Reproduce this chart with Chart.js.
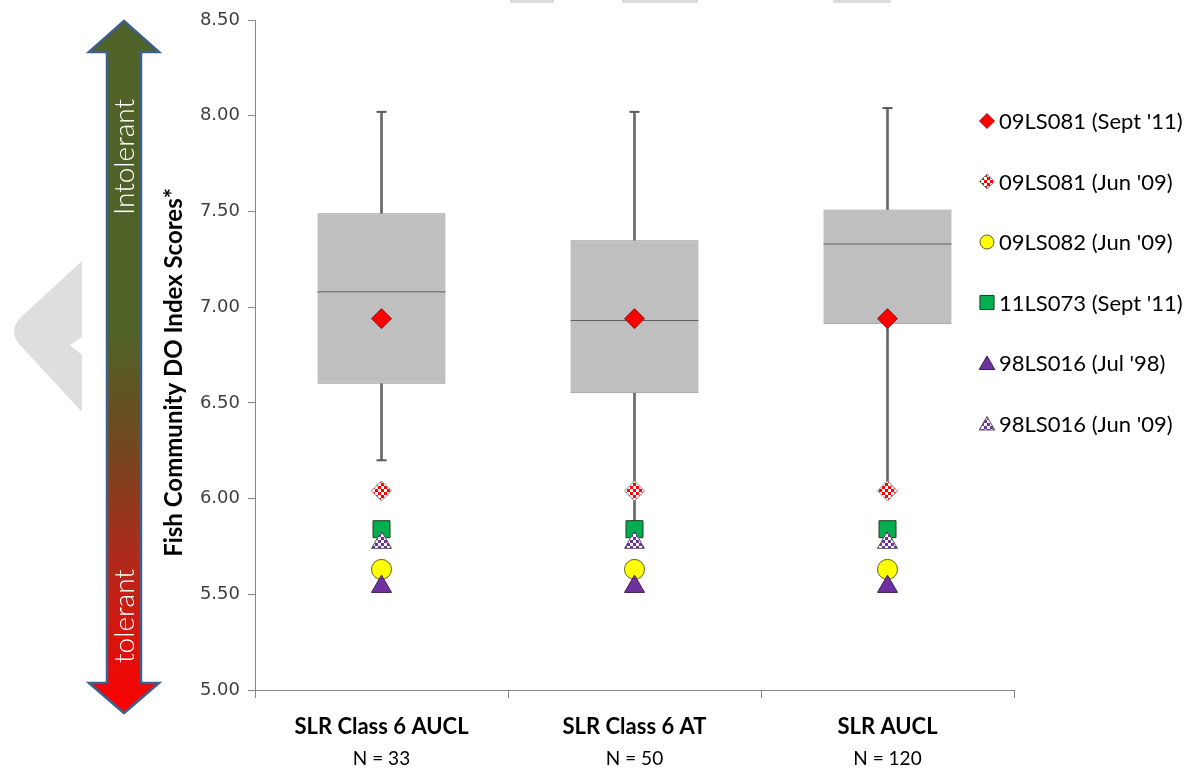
<!DOCTYPE html>
<html><head><meta charset="utf-8">
<script src="https://cdn.jsdelivr.net/npm/chart.js@4/dist/chart.umd.min.js"></script>
<style>html,body{margin:0;padding:0;background:#fff}#wrap{width:1194px;height:770px;position:relative}</style>
</head><body><div id="wrap"><canvas id="c" width="1194" height="770"></canvas></div>
<script>
// ---- data ----
const categories = ['SLR Class 6 AUCL', 'SLR Class 6 AT', 'SLR AUCL'];
const sampleSizes = ['N = 33', 'N = 50', 'N = 120'];
const yTickValues = [5.00, 5.50, 6.00, 6.50, 7.00, 7.50, 8.00, 8.50];
const whiskerHigh = [8.02, 8.02, 8.04];
const quartile3 = [7.49, 7.35, 7.51];
const medians = [7.08, 6.93, 7.33];
const quartile1 = [6.60, 6.55, 6.91];
const whiskerLow = [6.20, 5.88, 6.02];
const site09LS081Sep11 = [6.94, 6.94, 6.94];
const site09LS081Jun09 = [6.04, 6.04, 6.04];
const site09LS082Jun09 = [5.63, 5.63, 5.63];
const site11LS073Sep11 = [5.84, 5.84, 5.84];
const site98LS016Jul98 = [5.54, 5.54, 5.54];
const site98LS016Jun09 = [5.77, 5.77, 5.77];
const seriesLabels = ["09LS081 (Sept '11)", "09LS081 (Jun '09)", "09LS082 (Jun '09)", "11LS073 (Sept '11)", "98LS016 (Jul '98)", "98LS016 (Jun '09)"];
const yTitle = 'Fish Community DO Index Scores*';

// ---- styles ----
const canvas = document.getElementById('c');
const mainCtx = canvas.getContext('2d');
function checker(c1, c2, cell) {
  const cv = document.createElement('canvas'); cv.width = cell * 2; cv.height = cell * 2;
  const g = cv.getContext('2d');
  g.fillStyle = c1; g.fillRect(0, 0, cell * 2, cell * 2);
  g.fillStyle = c2; g.fillRect(cell, 0, cell, cell); g.fillRect(0, cell, cell, cell);
  return mainCtx.createPattern(cv, 'repeat');
}
const markerStyles = [
  {style: 'rectRot', r: 10, lr: 7.5, fill: '#FF0000', stroke: '#8B1A1A', order: 2},
  {style: 'rectRot', r: 10, lr: 7.5, fill: checker('#FF0000', '#FFFFFF', 3), stroke: '#8A8A8A', order: 2},
  {style: 'circle', r: 10, lr: 7, fill: '#FFFF00', stroke: '#5A5A20', order: 3},
  {style: 'rect', r: 12, lr: 10, fill: '#00B050', stroke: '#1E3A1E', order: 3},
  {style: 'triangle', r: 11.5, lr: 9, fill: '#7030A0', stroke: '#3A1A55', order: 1},
  {style: 'triangle', r: 11.5, lr: 9, fill: checker('#7030A0', '#FFFFFF', 3), stroke: '#555555', order: 1}
];
const markerData = [site09LS081Sep11, site09LS081Jun09, site09LS082Jun09, site11LS073Sep11, site98LS016Jul98, site98LS016Jun09];

function drawMarker(ctx, m, x, y, r) {
  ctx.save();
  ctx.beginPath();
  if (m.style === 'rectRot') {
    ctx.moveTo(x, y - r); ctx.lineTo(x + r, y); ctx.lineTo(x, y + r); ctx.lineTo(x - r, y); ctx.closePath();
  } else if (m.style === 'circle') {
    ctx.arc(x, y, r, 0, Math.PI * 2);
  } else if (m.style === 'rect') {
    const s = Math.SQRT1_2 * r; ctx.rect(x - s, y - s, 2 * s, 2 * s);
  } else if (m.style === 'triangle') {
    const a = Math.PI * 2 / 3;
    ctx.moveTo(x, y - r);
    ctx.lineTo(x + Math.sin(a) * r, y - Math.cos(a) * r);
    ctx.lineTo(x + Math.sin(2 * a) * r, y - Math.cos(2 * a) * r);
    ctx.closePath();
  }
  ctx.fillStyle = m.fill; ctx.fill();
  ctx.lineWidth = 1; ctx.strokeStyle = m.stroke; ctx.stroke();
  ctx.restore();
}

const backdropPlugin = {
  id: 'backdrop',
  beforeDraw(chart) {
    const ctx = chart.ctx;
    ctx.save();
    ctx.fillStyle = '#DCDCDC';
    ctx.fillRect(510, 0, 44, 3); ctx.fillRect(622, 0, 76, 3); ctx.fillRect(833, 0, 58, 3);
    ctx.fillStyle = '#DEDEDE';
    ctx.beginPath();
    ctx.moveTo(82, 261); ctx.lineTo(20, 318);
    ctx.quadraticCurveTo(8, 332, 20, 345);
    ctx.lineTo(82, 412); ctx.lineTo(82, 355); ctx.lineTo(70, 345); ctx.lineTo(82, 337); ctx.closePath();
    ctx.fill();
    const cx = 124, tipT = 21, tipB = 713, headT = 52, headB = 683, hw = 35, sw = 17;
    const grad = ctx.createLinearGradient(0, tipT, 0, tipB);
    grad.addColorStop(0, '#4F6228'); grad.addColorStop(0.45, '#4F6228');
    grad.addColorStop(0.62, '#74471F'); grad.addColorStop(0.8, '#B8261A'); grad.addColorStop(1, '#FF0000');
    ctx.beginPath();
    ctx.moveTo(cx, tipT); ctx.lineTo(cx + hw, headT); ctx.lineTo(cx + sw, headT);
    ctx.lineTo(cx + sw, headB); ctx.lineTo(cx + hw, headB); ctx.lineTo(cx, tipB);
    ctx.lineTo(cx - hw, headB); ctx.lineTo(cx - sw, headB); ctx.lineTo(cx - sw, headT);
    ctx.lineTo(cx - hw, headT); ctx.closePath();
    ctx.fillStyle = grad; ctx.fill();
    ctx.lineWidth = 2.5; ctx.strokeStyle = '#3D5F8C'; ctx.lineJoin = 'miter'; ctx.stroke();
    ctx.fillStyle = '#FFFFFF';
    ctx.font = '300 28px Lato';
    ctx.textAlign = 'center'; ctx.textBaseline = 'middle';
    ctx.translate(cx + 1, 157); ctx.rotate(-Math.PI / 2); ctx.fillText('Intolerant', 0, 0);
    ctx.setTransform(1, 0, 0, 1, 0, 0);
    ctx.translate(cx + 1, 616); ctx.rotate(-Math.PI / 2); ctx.fillText('tolerant', 0, 0);
    ctx.restore();
  }
};

const legendPlugin = {
  id: 'sideLegend',
  afterDraw(chart) {
    const ctx = chart.ctx;
    ctx.save();
    ctx.font = '22px Lato'; ctx.fillStyle = '#000000';
    ctx.textAlign = 'left'; ctx.textBaseline = 'middle';
    seriesLabels.forEach((lab, i) => {
      const y = 121 + i * 60.5;
      const m = markerStyles[i];
      drawMarker(ctx, m, 987, m.style === 'triangle' ? y + 2 : y, m.lr);
      ctx.fillText(lab, 999, y + 1);
    });
    ctx.restore();
  }
};

const datasets = [];
markerStyles.forEach((m, i) => {
  datasets.push({
    type: 'line', label: seriesLabels[i], data: markerData[i], showLine: false,
    pointStyle: m.style, pointRadius: m.r, pointBackgroundColor: m.fill,
    pointBorderColor: m.stroke, pointBorderWidth: 1, order: m.order
  });
});
datasets.push({type: 'line', label: 'median', data: medians, showLine: false, pointStyle: 'line',
  pointRadius: 64, pointBorderColor: '#5E5E5E', pointBorderWidth: 1, order: 5});
datasets.push({type: 'line', label: 'capHigh', data: whiskerHigh, showLine: false, pointStyle: 'line',
  pointRadius: 5, pointBorderColor: '#595959', pointBorderWidth: 2, order: 5});
datasets.push({type: 'line', label: 'capLow', data: whiskerLow, showLine: false, pointStyle: 'line',
  pointRadius: 5, pointBorderColor: '#595959', pointBorderWidth: 2, order: 5});
datasets.push({type: 'bar', label: 'upperWhisker', data: quartile3.map((v, i) => [v, whiskerHigh[i]]),
  grouped: false, barThickness: 2, backgroundColor: '#666666', borderWidth: 0, order: 6});
datasets.push({type: 'bar', label: 'lowerWhisker', data: quartile1.map((v, i) => [whiskerLow[i], v]),
  grouped: false, barThickness: 2, backgroundColor: '#666666', borderWidth: 0, order: 6});
datasets.push({type: 'bar', label: 'box', data: quartile1.map((v, i) => [v, quartile3[i]]),
  grouped: false, categoryPercentage: 1, barPercentage: 0.506, backgroundColor: '#BFBFBF',
  borderColor: '#8C8C8C', borderWidth: 1, borderSkipped: false, order: 7});

new Chart(canvas, {
  type: 'bar',
  data: {labels: categories, datasets},
  options: {
    responsive: false, animation: false, events: [],
    layout: {autoPadding: false, padding: {left: 160, right: 180, top: 20, bottom: 0}},
    plugins: {legend: {display: false}, tooltip: {enabled: false}},
    scales: {
      x: {
        position: 'bottom', offset: true, weight: 0,
        grid: {display: true, drawOnChartArea: false, offset: true, tickLength: 8, color: '#868686'},
        border: {color: '#868686', width: 1},
        ticks: {font: {family: 'Lato', size: 22, weight: 'bold'}, color: '#000', padding: 16, maxRotation: 0},
        afterFit(s) { s.height = 49; }
      },
      x2: {
        position: 'bottom', type: 'category', labels: sampleSizes, offset: true, weight: 1,
        grid: {display: false}, border: {display: false},
        ticks: {font: {family: 'Lato', size: 19}, color: '#000', padding: 0, maxRotation: 0},
        afterFit(s) { s.height = 31; }
      },
      y: {
        min: 5, max: 8.5,
        afterBuildTicks(s) { s.ticks = yTickValues.map(v => ({value: v})); },
        grid: {display: true, drawOnChartArea: false, tickLength: 7, color: '#868686'},
        border: {color: '#868686', width: 1},
        ticks: {font: {family: 'DejaVu Sans', size: 18}, color: '#404040', padding: 8,
          callback: v => Number(v).toFixed(2)},
        title: {display: true, text: yTitle + '      ', font: {family: 'Lato', size: 24, weight: 'bold'},
          color: '#000', padding: {top: 0, bottom: 0}},
        afterFit(s) { s.width = 95; }
      }
    }
  },
  plugins: [backdropPlugin, legendPlugin]
});
</script></body></html>
